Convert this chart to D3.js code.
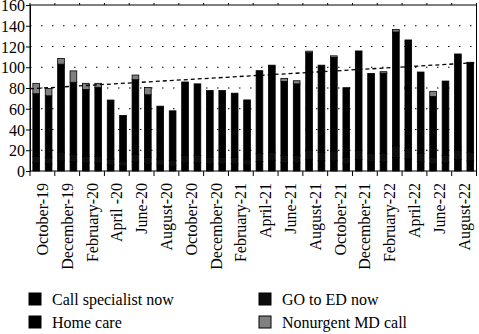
<!DOCTYPE html>
<html>
<head>
<meta charset="utf-8">
<script src="https://cdn.jsdelivr.net/npm/d3@7"></script>
<style>
  html, body { margin: 0; padding: 0; background: #fff; }
  svg { display: block; }
  text { font-family: "Liberation Serif", "DejaVu Serif", serif; fill: #000; }
</style>
</head>
<body>
<svg id="chart" width="479" height="334"></svg>
<script>
// ---- Data ----
const months = [
  "October-19","November-19","December-19","January-20","February-20","March-20",
  "April -20","May-20","June-20","July-20","August-20","September-20",
  "October-20","November-20","December-20","January-21","February-21","March-21",
  "April-21","May-21","June-21","July-21","August-21","September-21",
  "October-21","November-21","December-21","January-22","February-22","March-22",
  "April-22","May-22","June-22","July-22","August-22","September-22"
];
const tickLabels = [
  "October-19","December-19","February-20","April -20","June-20","August-20",
  "October-20","December-20","February-21","April-21","June-21","August-21",
  "October-21","December-21","February-22","April-22","June-22","August-22"
];
const callSpecialist = [8,7,10,9,8,8,6,5,9,7,6,5,8,8,7,7,7,6,9,10,8,8,11,10,10,7,11,9,9,13,12,9,7,8,11,10];
const goToED         = [6,6,8,7,6,6,5,4,7,6,5,5,7,7,6,6,6,5,8,8,7,7,9,8,9,6,9,8,8,11,10,8,6,7,9,8];
const homeCare       = [60.5,59.5,85,69.5,64.5,66.5,57.4,44.5,72,60.5,51.5,48,70.8,69,64.5,64.5,62,57.5,79.7,84,71.3,69,94,84,90.5,67.3,95.7,77,77.2,110,104.3,78.4,58.8,71.7,92.8,86.8];
const nonurgentMD    = [10,7,5.5,11,6,4,0,0,4.5,7,0,0,0,0,0,0,0,0,0,0,3,3,1.5,0,1.5,0,0,0,1.5,2.5,0,0,5,0,0,0];
const trendStartEnd  = [79.6, 104.1];
const yTicks = [0,20,40,60,80,100,120,140,160];

const seriesNames = ["Call specialist now","GO to ED now","Home care","Nonurgent MD call"];
const seriesColors = ["#000000","#0d0d0d","#000000","#808080"];

// ---- Layout ----
const svg = d3.select("#chart");
const mLeft = 30, mRight = 476.5, mTop = 5, mBottom = 171;

const rows = months.map((m, i) => ({
  month: m,
  "Call specialist now": callSpecialist[i],
  "GO to ED now": goToED[i],
  "Home care": homeCare[i],
  "Nonurgent MD call": nonurgentMD[i]
}));
const stacked = d3.stack().keys(seriesNames)(rows);

const x = d3.scaleBand().domain(months).range([mLeft, mRight]).paddingInner(0.46).paddingOuter(0.23);
const y = d3.scaleLinear().domain([0, 160]).range([mBottom, mTop]);
const step = x.step();

// gridlines (dotted)
svg.append("g").selectAll("line").data(yTicks.filter(t => t > 0 && t < 160)).join("line")
  .attr("x1", mLeft).attr("x2", mRight)
  .attr("y1", d => y(d)).attr("y2", d => y(d))
  .attr("stroke", "#000").attr("stroke-width", 1.2)
  .attr("stroke-dasharray", "1.5,9.5");

// bars
const colorOf = d3.scaleOrdinal().domain(seriesNames).range(seriesColors);
svg.append("g").selectAll("g").data(stacked).join("g")
  .attr("fill", d => colorOf(d.key))
  .selectAll("rect").data(d => d.filter(p => p[1] - p[0] > 0)).join("rect")
  .attr("x", d => x(d.data.month))
  .attr("width", x.bandwidth())
  .attr("y", d => y(d[1]))
  .attr("height", d => y(d[0]) - y(d[1]))
  .attr("stroke", "#000").attr("stroke-width", 0.8);

// trend line
const x0c = x(months[0]) + x.bandwidth() / 2;
const x1c = x(months[months.length - 1]) + x.bandwidth() / 2;
const slope = (trendStartEnd[1] - trendStartEnd[0]) / (x1c - x0c);
svg.append("line")
  .attr("x1", mLeft).attr("x2", mRight)
  .attr("y1", y(trendStartEnd[0] - slope * (x0c - mLeft)))
  .attr("y2", y(trendStartEnd[1] + slope * (mRight - x1c)))
  .attr("stroke", "#000").attr("stroke-width", 1.3)
  .attr("stroke-dasharray", "4,3");

// frame
svg.append("rect").attr("x", mLeft).attr("y", mTop)
  .attr("width", mRight - mLeft).attr("height", mBottom - mTop)
  .attr("fill", "none").attr("stroke", "#000").attr("stroke-width", 1);

// y axis
const yAxis = d3.axisLeft(y).tickValues(yTicks).tickSize(4).tickPadding(1);
const gy = svg.append("g").attr("transform", `translate(${mLeft},0)`).call(yAxis);
gy.select(".domain").attr("stroke", "#000");
gy.selectAll("text").style("font-size", "16px").attr("font-family", null).attr("dy", "0.35em");

// x axis ticks every two categories
const tickIdx = d3.range(0, months.length + 1, 2);
svg.append("g").selectAll("line").data(tickIdx).join("line")
  .attr("x1", i => mLeft + i * step).attr("x2", i => mLeft + i * step)
  .attr("y1", mBottom).attr("y2", mBottom + 5)
  .attr("stroke", "#000");
svg.append("g").selectAll("line").data(tickIdx).join("line")
  .attr("x1", i => mLeft + i * step).attr("x2", i => mLeft + i * step)
  .attr("y1", mTop).attr("y2", mTop - 2)
  .attr("stroke", "#000");

// x labels
svg.append("g").selectAll("text").data(tickLabels).join("text")
  .attr("transform", (d, i) => `translate(${x(months[i * 2]) + x.bandwidth() / 2 + step / 2},183) rotate(-90)`)
  .attr("text-anchor", "end")
  .attr("dy", "0.35em")
  .style("font-size", "16px")
  .text(d => d);

// legend
const legendPos = [
  {name: "Call specialist now", lx: 29, ly: 293},
  {name: "GO to ED now", lx: 259, ly: 293},
  {name: "Home care", lx: 29, ly: 316},
  {name: "Nonurgent MD call", lx: 259, ly: 316}
];
const lg = svg.append("g").selectAll("g").data(legendPos).join("g");
lg.append("rect").attr("x", d => d.lx).attr("y", d => d.ly)
  .attr("width", 12).attr("height", 12)
  .attr("fill", d => colorOf(d.name)).attr("stroke", "#000").attr("stroke-width", 1);
lg.append("text").attr("x", d => d.lx + 23).attr("y", d => d.ly + 12)
  .style("font-size", "16px").text(d => d.name);
</script>
</body>
</html>
